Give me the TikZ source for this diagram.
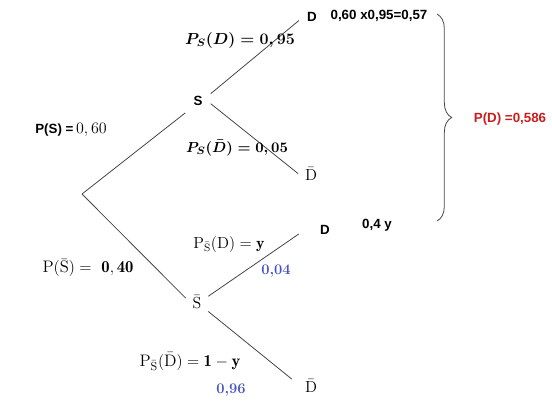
\documentclass[tikz,border=0pt]{standalone}
\usepackage{amsmath,amssymb}
\usepackage{fontspec}
\setsansfont{Liberation Sans}
\usepackage{tikz}
\usetikzlibrary{decorations.pathreplacing}
\definecolor{probblue}{RGB}{68,84,196}
\definecolor{probred}{RGB}{200,30,30}
\definecolor{branchgray}{RGB}{70,70,70}
\tikzset{
  event/.style={font=\sffamily\bfseries\fontsize{10}{12}\selectfont,inner sep=6pt},
  barevent/.style={font=\rmfamily\fontsize{12}{14}\selectfont,inner sep=5pt},
  branch/.style={draw=branchgray,line width=0.6pt},
  mlabel/.style={font=\rmfamily\fontsize{12}{14}\selectfont,inner sep=1pt},
  note/.style={font=\sffamily\bfseries\fontsize{10}{12}\selectfont,inner sep=1pt},
  value/.style={font=\rmfamily\bfseries\fontsize{11}{13}\selectfont,text=probblue,inner sep=1pt}
}

\begin{document}
\begin{tikzpicture}[x=0.75pt,y=-0.75pt]
  \useasboundingbox (0,0) rectangle (552,404);
  % tree nodes
  \coordinate (root) at (82,194);
  \node[event] (S) at (198,101) {S};
  \node[barevent] (Sb) at (197,302) {$\bar{\mathrm{S}}$};
  \node[event] (D1) at (312,17) {D};
  \node[barevent] (Db1) at (311,174) {$\bar{\mathrm{D}}$};
  \node[event] (D2) at (325,230) {D};
  \node[barevent] (Db2) at (311,386) {$\bar{\mathrm{D}}$};
  % branches
  \draw[branch] (root) -- (S.223);
  \draw[branch] (root) -- (Sb.161);
  \draw[branch] (S.30) -- (D1.195);
  \draw[branch] (S.348) -- (Db1.178);
  \draw[branch,shorten >=12pt] (Sb.27) -- (D2.159);
  \draw[branch,shorten >=6pt] (Sb.320) -- (Db2.172);
  % probabilities
  \node[mlabel] (pSD) at (240,40) {$\boldsymbol{P_S(D) = 0,95}$};
  \node[mlabel,font=\rmfamily\fontsize{11}{13}\selectfont] (pSDb) at (237,148) {$\boldsymbol{P_S(\bar{D}) = 0,05}$};
  \node[mlabel] (pS) at (71,130) {\textsf{\bfseries\fontsize{10}{12}\selectfont P(S) =}$\,0,60$};
  \node[mlabel,font=\rmfamily\fontsize{12.5}{14}\selectfont] (pSb) at (88,268) {$\mathrm{P}(\bar{\mathrm{S}}) =\ \mathbf{0,40}$};
  \node[mlabel] (pSbD) at (229,244) {$\mathrm{P}_{\bar{\mathrm{S}}}(\mathrm{D}) = \mathbf{y}$};
  \node[mlabel,font=\rmfamily\fontsize{12.5}{14}\selectfont] (pSbDb) at (190,362) {$\mathrm{P}_{\bar{\mathrm{S}}}(\bar{\mathrm{D}}) = \mathbf{1-y}$};
  \node[value] (v04) at (276,271) {0,04};
  \node[value] (v96) at (231,390) {0,96};
  % products and total
  \node[note] (prod1) at (379,16) {0,60 x0,95=0,57};
  \node[note] (prod2) at (377,225) {0,4 y};
  \coordinate (btop) at (437,14);
  \coordinate (bbot) at (437,221);
  \draw[branchgray,line width=0.6pt,decorate,decoration={brace,amplitude=11pt}] (btop) -- (bbot);
  \node[note,text=probred] (total) at (510,119) {P(D) =0,586};
\end{tikzpicture}
\end{document}
